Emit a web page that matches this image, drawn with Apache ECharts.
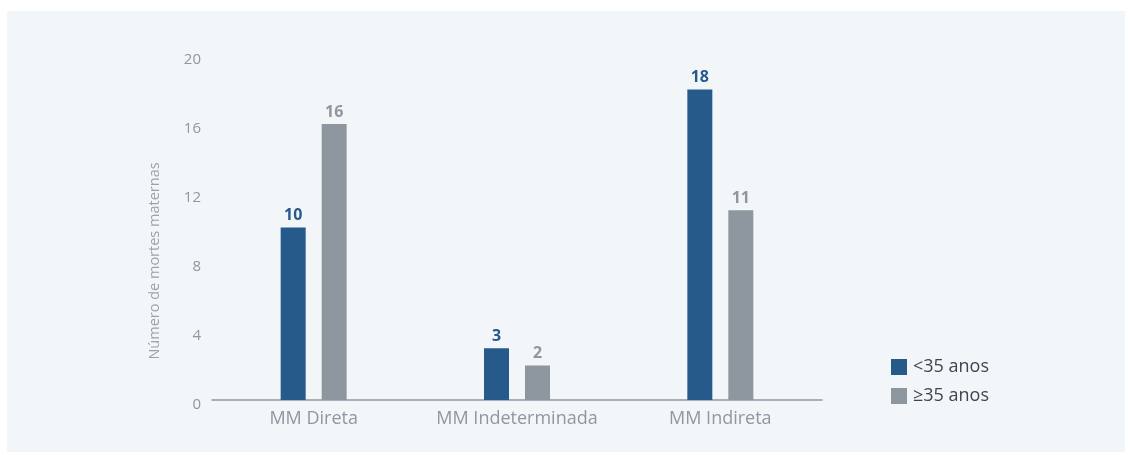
<!DOCTYPE html>
<html>
<head>
    <meta charset="utf-8">
    <title>Mortes maternas por idade</title>
    <script src="https://cdn.jsdelivr.net/npm/echarts@6/dist/echarts.min.js"></script>
    <style>
        html, body { margin: 0; padding: 0; background: #ffffff; }
        #main { width: 1131px; height: 455px; }
    </style>
</head>
<body>
<div id="main"></div>
<script type="text/javascript">
    var categorias = ['MM Direta', 'MM Indeterminada', 'MM Indireta'];
    var menos35 = [10, 3, 18];
    var mais35 = [16, 2, 11];
    var nomesSeries = ['<35 anos', '≥35 anos'];
    var ticksY = [0, 4, 8, 12, 16, 20];

    var azul = '#255a8b';
    var cinza = '#8e979f';
    var fonte = '"Open Sans", sans-serif';

    var myChart = echarts.init(document.getElementById('main'));
    var option = {
        backgroundColor: '#ffffff',
        textStyle: { fontFamily: fonte },
        graphic: [
            {
                type: 'rect', z: -10, silent: true,
                shape: { x: 7, y: 11, width: 1118, height: 441 },
                style: { fill: '#f3f6f9' }
            },
            {
                type: 'text', x: 155, y: 261, rotation: Math.PI / 2,
                style: {
                    text: 'Número de mortes maternas',
                    fill: '#9aa2ac', fontSize: 14.5, fontFamily: fonte,
                    align: 'center', verticalAlign: 'middle'
                }
            }
        ],
        legend: {
            orient: 'vertical',
            left: 886, top: 353,
            itemWidth: 16, itemHeight: 16, itemGap: 11,
            icon: 'rect',
            data: nomesSeries,
            textStyle: { color: '#3d4650', fontSize: 18, fontFamily: fonte, padding: [0, 0, 0, 1] }
        },
        grid: { left: 212, right: 309, top: 55, bottom: 55 },
        xAxis: {
            type: 'category',
            data: categorias,
            axisLine: { lineStyle: { color: '#8f97a8', width: 1.5 } },
            axisTick: { show: false },
            axisLabel: { color: '#8f97a0', fontSize: 18, margin: 10, interval: 0, fontFamily: fonte }
        },
        yAxis: {
            type: 'value',
            min: ticksY[0], max: ticksY[ticksY.length - 1], interval: 4,
            axisLine: { show: false },
            axisTick: { show: false },
            splitLine: { show: false },
            axisLabel: { color: '#8f97a0', fontSize: 15, margin: 11, fontFamily: fonte,
                         verticalAlign: 'top', lineHeight: 10 }
        },
        series: [
            {
                name: nomesSeries[0], type: 'bar', data: menos35,
                barWidth: 25, barGap: '64%',
                itemStyle: { color: azul },
                label: { show: true, position: 'top', distance: 4, color: azul,
                         fontWeight: 'bold', fontSize: 16, fontFamily: fonte }
            },
            {
                name: nomesSeries[1], type: 'bar', data: mais35,
                barWidth: 25,
                itemStyle: { color: cinza },
                label: { show: true, position: 'top', distance: 4, color: cinza,
                         fontWeight: 'bold', fontSize: 16, fontFamily: fonte }
            }
        ]
    };
    myChart.setOption(option);
</script>
</body>
</html>
